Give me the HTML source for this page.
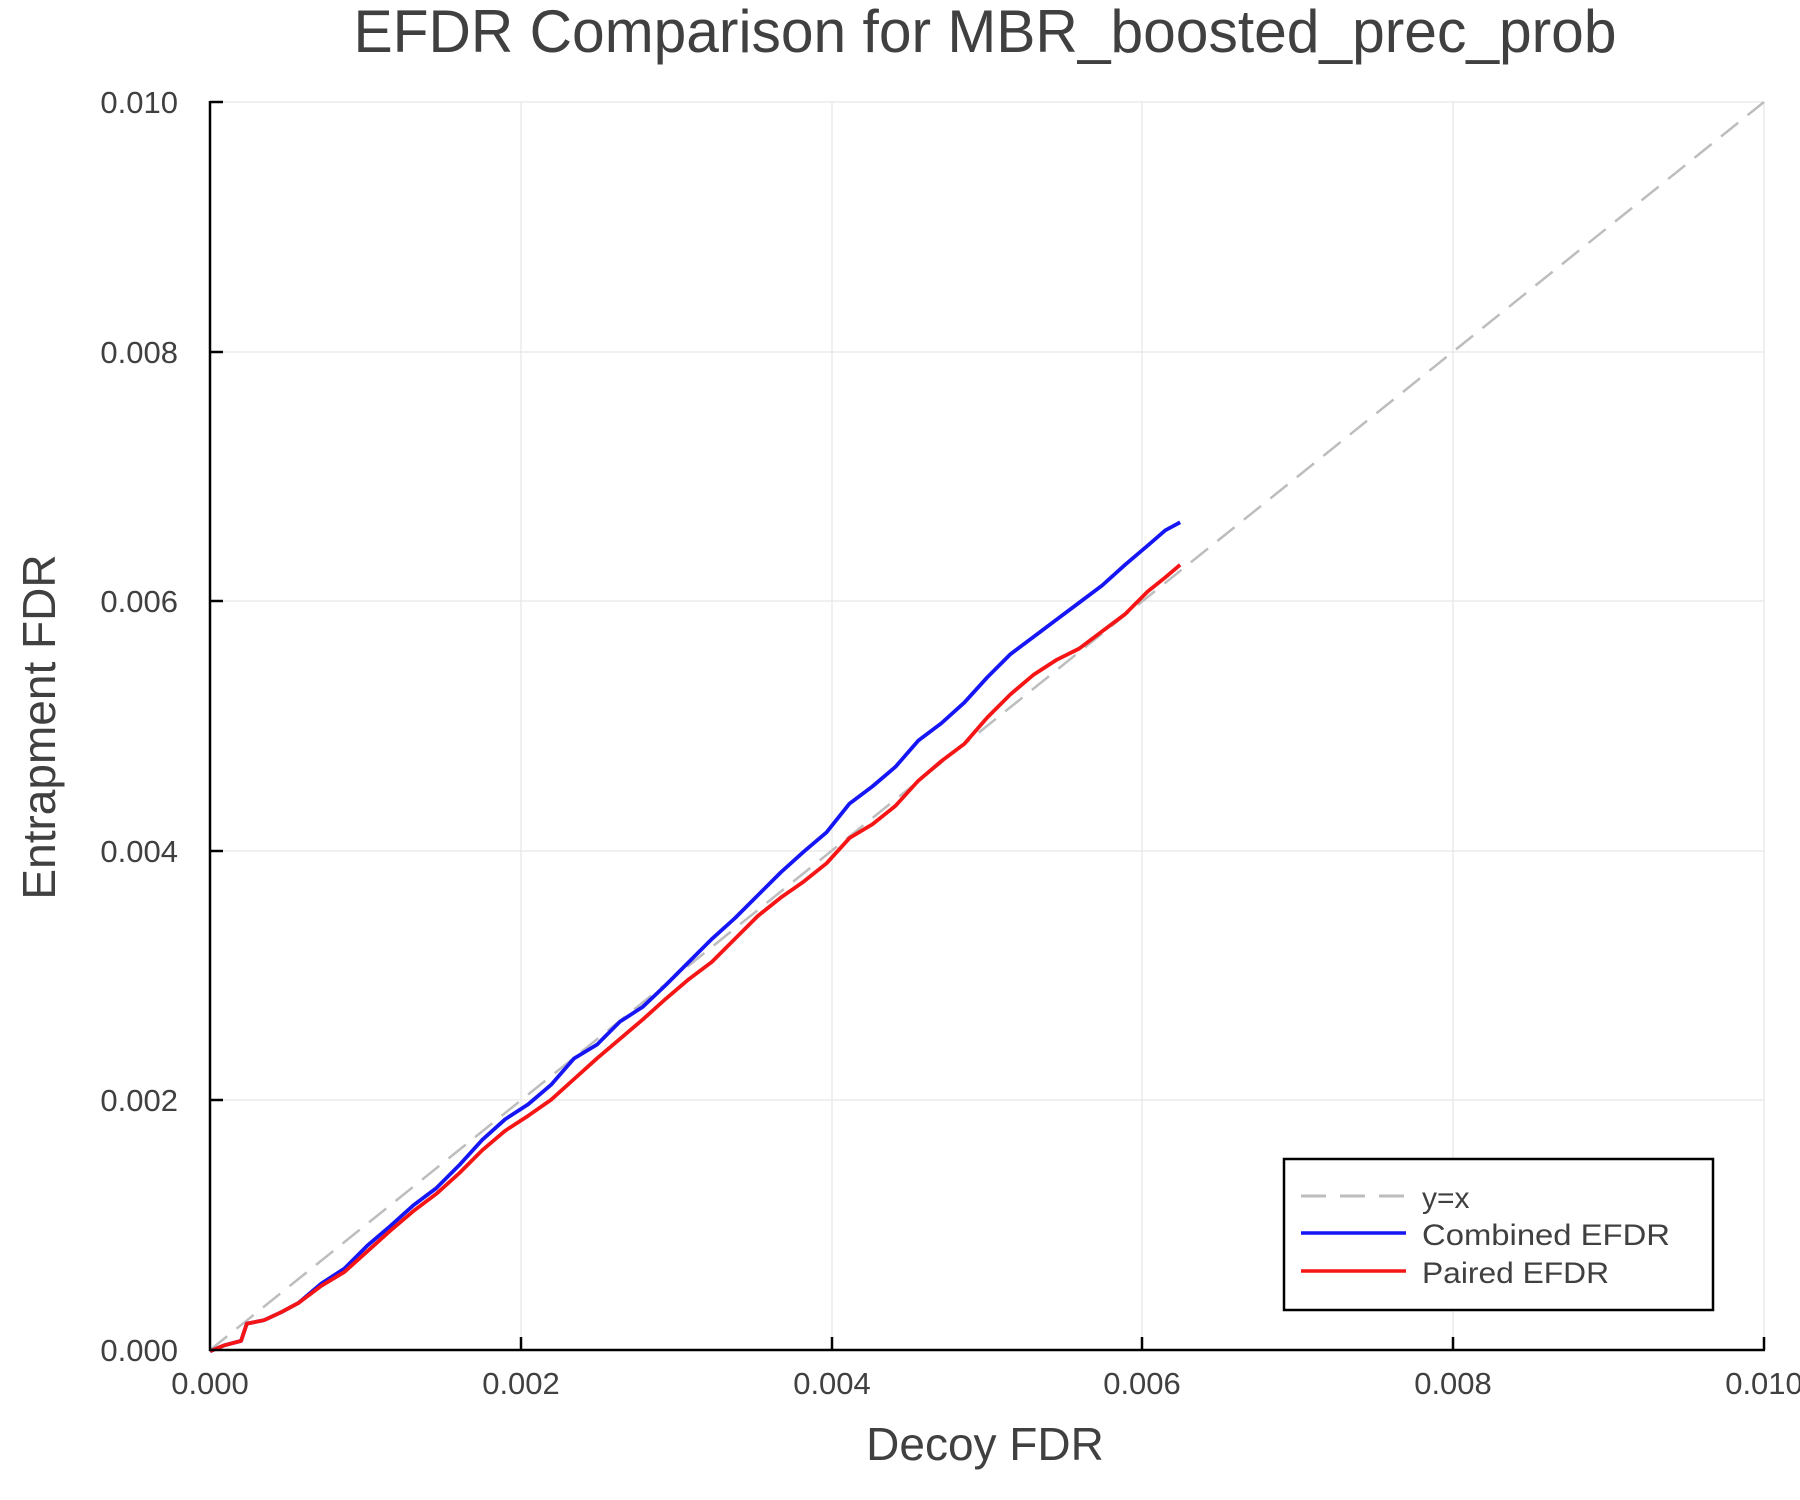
<!DOCTYPE html>
<html><head><meta charset="utf-8"><style>body{margin:0;background:#fff}svg{display:block}</style></head><body>
<svg width="1800" height="1500" viewBox="0 0 1800 1500" font-family="Liberation Sans, sans-serif" fill="#404040">
<rect width="1800" height="1500" fill="#fff"/>
<g stroke="#e6e6e6" stroke-width="1.2">
<line x1="521" y1="102" x2="521" y2="1350"/><line x1="832" y1="102" x2="832" y2="1350"/><line x1="1142" y1="102" x2="1142" y2="1350"/><line x1="1453" y1="102" x2="1453" y2="1350"/><line x1="1764" y1="102" x2="1764" y2="1350"/>
<line x1="210" y1="102" x2="1764" y2="102"/><line x1="210" y1="352" x2="1764" y2="352"/><line x1="210" y1="601" x2="1764" y2="601"/><line x1="210" y1="851" x2="1764" y2="851"/><line x1="210" y1="1100" x2="1764" y2="1100"/>
</g>
<line x1="210" y1="1350" x2="1764" y2="102" stroke="#bdbdbd" stroke-width="2.5" stroke-dasharray="22,12"/>
<g transform="scale(1.148)" fill="none" stroke-width="3.3" stroke-linejoin="round">
<polyline stroke="#1515f5" points="183,1177 195,1172 210,1168 215,1153 230,1150 245,1143 260,1135 280,1118 300,1105 320,1085 340,1068 360,1050 380,1035 400,1015 420,993 440,975 460,962 480,945 500,922 520,910 540,890 560,877 580,858 600,838 620,818 640,800 660,780 680,760 700,742 720,725 740,700 760,685 780,668 800,645 820,630 840,612 860,590 880,570 900,555 920,540 940,525 960,510 980,492 1000,475 1015,462 1028,455"/>
<polyline stroke="#f51515" points="183,1177 195,1172 210,1168 215,1153 230,1150 245,1143 260,1135 280,1120 300,1108 320,1090 340,1072 360,1055 380,1040 400,1022 420,1002 440,985 460,972 480,958 500,940 520,922 540,905 560,888 580,870 600,853 620,838 640,818 660,798 680,782 700,768 720,752 740,730 760,718 780,702 800,680 820,663 840,648 860,625 880,605 900,588 920,575 940,565 960,550 980,535 1000,515 1015,503 1028,492"/>
</g>
<g stroke="#000" stroke-width="2.5">
<line x1="210" y1="101" x2="210" y2="1351"/><line x1="209" y1="1350" x2="1765" y2="1350"/>
<line x1="521" y1="1350" x2="521" y2="1337"/><line x1="832" y1="1350" x2="832" y2="1337"/><line x1="1142" y1="1350" x2="1142" y2="1337"/><line x1="1453" y1="1350" x2="1453" y2="1337"/><line x1="1764" y1="1350" x2="1764" y2="1337"/>
<line x1="210" y1="102" x2="223" y2="102"/><line x1="210" y1="352" x2="223" y2="352"/><line x1="210" y1="601" x2="223" y2="601"/><line x1="210" y1="851" x2="223" y2="851"/><line x1="210" y1="1100" x2="223" y2="1100"/>
</g>
<g font-size="31" text-anchor="middle">
<text x="210" y="1394">0.000</text><text x="521" y="1394">0.002</text><text x="832" y="1394">0.004</text><text x="1142" y="1394">0.006</text><text x="1453" y="1394">0.008</text><text x="1764" y="1394">0.010</text>
</g>
<g font-size="31" text-anchor="end">
<text x="178" y="113">0.010</text><text x="178" y="363">0.008</text><text x="178" y="612">0.006</text><text x="178" y="862">0.004</text><text x="178" y="1111">0.002</text><text x="178" y="1361">0.000</text>
</g>
<text x="985" y="52" font-size="60" text-anchor="middle" textLength="1263" lengthAdjust="spacingAndGlyphs">EFDR Comparison for MBR_boosted_prec_prob</text>
<text x="985" y="1460" font-size="46" text-anchor="middle">Decoy FDR</text>
<text transform="translate(55,727) rotate(-90)" font-size="46" text-anchor="middle">Entrapment FDR</text>
<rect x="1284" y="1159" width="429" height="151" fill="#fff" stroke="#000" stroke-width="2.5"/>
<line x1="1301" y1="1196" x2="1406" y2="1196" stroke="#bdbdbd" stroke-width="3" stroke-dasharray="25,14"/>
<line x1="1301" y1="1233" x2="1406" y2="1233" stroke="#1515f5" stroke-width="3.5"/>
<line x1="1301" y1="1271" x2="1406" y2="1271" stroke="#f51515" stroke-width="3.5"/>
<g font-size="30"><text x="1422" y="1208">y=x</text><text x="1422" y="1245" textLength="248" lengthAdjust="spacingAndGlyphs">Combined EFDR</text><text x="1422" y="1283" textLength="187" lengthAdjust="spacingAndGlyphs">Paired EFDR</text></g>
</svg>
</body></html>
